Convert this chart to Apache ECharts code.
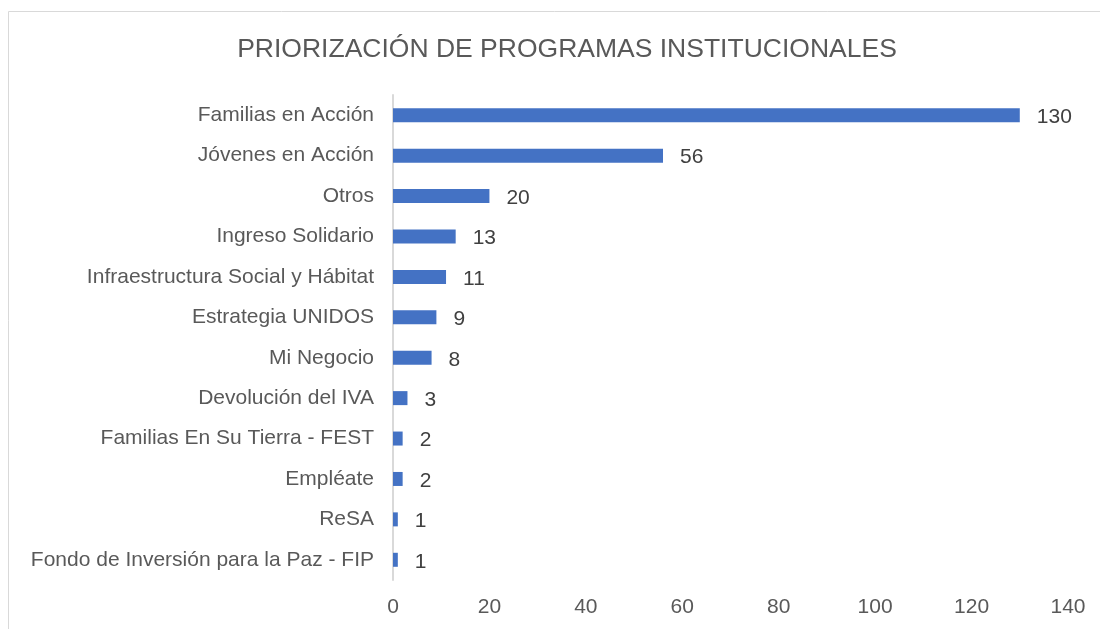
<!DOCTYPE html>
<html>
<head>
<meta charset="utf-8">
<script src="https://cdn.jsdelivr.net/npm/echarts@6/dist/echarts.min.js"></script>
<style>
  html, body { margin: 0; padding: 0; background: #fff; }
  #chart { width: 1100px; height: 629px; }
</style>
</head>
<body>
<div id="chart"></div>
<script>
// datos del gráfico (de arriba hacia abajo)
const programas = [
    'Familias en Acción',
    'Jóvenes en Acción',
    'Otros',
    'Ingreso Solidario',
    'Infraestructura Social y Hábitat',
    'Estrategia UNIDOS',
    'Mi Negocio',
    'Devolución del IVA',
    'Familias En Su Tierra - FEST',
    'Empléate',
    'ReSA',
    'Fondo de Inversión para la Paz - FIP'
];
const cantidades = [130, 56, 20, 13, 11, 9, 8, 3, 2, 2, 1, 1];
const xTicks = [0, 20, 40, 60, 80, 100, 120, 140];

const labelColor = '#595959';
const gridColor = '#d9d9d9';
const font = 'Liberation Sans, Arial, sans-serif';

const chart = echarts.init(document.getElementById('chart'));

chart.setOption({
    animation: false,
    textStyle: { fontFamily: font },
    graphic: [
        {
            type: 'rect',
            shape: { x: 8.5, y: 11.5, width: 1100, height: 700 },
            style: { fill: 'none', stroke: gridColor, lineWidth: 1 },
            silent: true
        }
    ],
    title: {
        text: 'PRIORIZACIÓN DE PROGRAMAS INSTITUCIONALES',
        left: 562,
        top: 31,
        textAlign: 'center',
        textStyle: {
            fontFamily: font,
            fontSize: 26.5,
            fontWeight: 'normal',
            color: labelColor
        }
    },
    grid: {
        left: 393,
        top: 95,
        width: 675,
        height: 485,
        containLabel: false
    },
    xAxis: {
        type: 'value',
        min: xTicks[0],
        max: xTicks[xTicks.length - 1],
        interval: 20,
        axisLine: { show: false },
        axisTick: { show: false },
        splitLine: { show: false },
        axisLabel: {
            margin: 17,
            fontSize: 21,
            color: labelColor,
            fontFamily: font
        }
    },
    yAxis: {
        type: 'category',
        inverse: true,
        data: programas,
        axisLine: { show: true, lineStyle: { color: gridColor, width: 2 } },
        axisTick: { show: false },
        axisLabel: {
            margin: 19,
            fontSize: 21,
            color: labelColor,
            fontFamily: font,
            padding: [2, 0, 0, 0]
        }
    },
    series: [
        {
            type: 'bar',
            data: cantidades,
            barWidth: 14,
            itemStyle: { color: '#4472C4' },
            label: {
                show: true,
                position: 'right',
                distance: 17,
                offset: [0, 2],
                fontSize: 21,
                color: '#404040',
                fontFamily: font
            }
        }
    ]
});
</script>
</body>
</html>
